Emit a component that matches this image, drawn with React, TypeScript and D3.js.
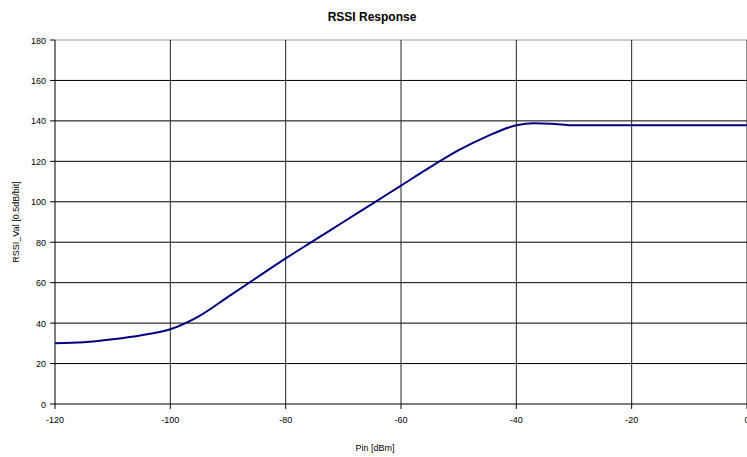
import React, { useMemo } from 'react';
import * as d3 from 'd3';

const pinValues = [-120, -115, -110, -105, -100, -95, -90, -85, -80, -75, -70, -65, -60, -55, -50, -45, -40, -37, -34, -30, -20, -10, 0];
const rssiValues = [30, 30.5, 32, 34, 37, 43.5, 53, 62.5, 72, 81, 90, 99, 108, 117, 125.5, 132.5, 137.8, 138.8, 138.6, 137.8, 137.8, 137.8, 137.8];
const xTicks = [-120, -100, -80, -60, -40, -20, 0];
const yTicks = [0, 20, 40, 60, 80, 100, 120, 140, 160, 180];

const width = 747;
const height = 457;
const margin = { top: 40, right: 0, bottom: 53, left: 55 };

const App = () => {
  const innerWidth = width - margin.left - margin.right;
  const innerHeight = height - margin.top - margin.bottom;

  const { xScale, yScale, linePath } = useMemo(() => {
    const xScale = d3.scaleLinear().domain([-120, 0]).range([0, 692]);
    const yScale = d3.scaleLinear().domain([0, 180]).range([innerHeight, 0]);
    const line = d3.line<number>()
      .x((_, i) => xScale(pinValues[i]))
      .y(d => yScale(d))
      .curve(d3.curveMonotoneX);
    return { xScale, yScale, linePath: line(rssiValues) };
  }, [innerHeight]);

  return (
    <div style={{ position: 'absolute', left: 0, top: 0 }}>
      <svg width={width} height={height} style={{ display: 'block', background: '#fff', fontFamily: 'Arial, "Liberation Sans", sans-serif' }}>
        <text x={372} y={21} textAnchor="middle" style={{ fontSize: '12px', fontWeight: 'bold' }}>RSSI Response</text>
        <g transform={`translate(${margin.left}, ${margin.top})`}>
          {/* grid */}
          {yTicks.map(t => (
            <line key={`gy-${t}`} x1={0} x2={innerWidth} y1={yScale(t)} y2={yScale(t)}
              stroke={t === 180 ? '#999' : '#000'} strokeWidth={1} />
          ))}
          {xTicks.map(t => (
            <line key={`gx-${t}`} x1={xScale(t)} x2={xScale(t)} y1={0} y2={innerHeight}
              stroke={t === -120 ? '#000' : '#222'} strokeWidth={1} />
          ))}

          <path d={linePath || ''} fill="none" stroke="#000080" strokeWidth={2} />

          {/* axes ticks and labels */}
          {yTicks.map(t => (
            <g key={`ty-${t}`} transform={`translate(0, ${yScale(t)})`}>
              <line x1={-5} x2={0} stroke="#000" />
              <text x={-9} y={3.5} textAnchor="end" style={{ fontSize: '9px' }}>{t}</text>
            </g>
          ))}
          {xTicks.map(t => (
            <g key={`tx-${t}`} transform={`translate(${xScale(t)}, ${innerHeight})`}>
              <line y1={0} y2={5} stroke="#000" />
              <text y={19} textAnchor="middle" style={{ fontSize: '9px' }}>{t}</text>
            </g>
          ))}

          <text x={320} y={innerHeight + 47} textAnchor="middle" style={{ fontSize: '9px' }}>Pin [dBm]</text>
          <text transform={`translate(-36, ${innerHeight / 2}) rotate(-90)`} textAnchor="middle" style={{ fontSize: '9px' }}>RSSI_Val [0.5dB/bit]</text>
        </g>
      </svg>
    </div>
  );
};

export default App;
